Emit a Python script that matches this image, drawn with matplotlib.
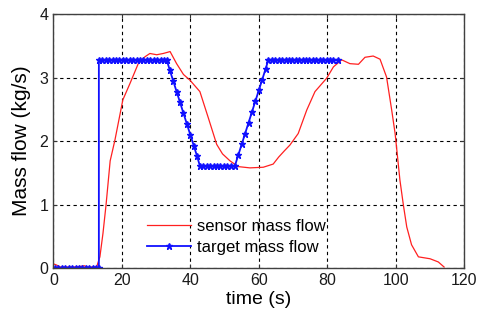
import matplotlib
matplotlib.use("Agg")
import matplotlib.pyplot as plt

# target mass flow (blue, with markers)
target_t = [0.5, 1.5, 2.5, 3.5, 4.5, 5.5, 6.5, 7.5, 8.5, 9.5, 10.5, 11.5, 12.5, 13.3,
            13.3, 14.3, 15.3, 16.3, 17.3, 18.3, 19.3, 20.3, 21.3, 22.3, 23.3, 24.3,
            25.3, 26.3, 27.3, 28.3, 29.3, 30.3, 31.3, 32.3, 33.1,
            34.0, 35.0, 36.0, 37.0, 38.0, 39.0, 40.0, 41.0, 42.0, 42.8,
            43.8, 44.8, 45.8, 46.8, 47.8, 48.8, 49.8, 50.8, 51.8, 53.0,
            54.0, 55.0, 56.0, 57.0, 58.0, 59.0, 60.0, 61.0, 62.0, 62.8,
            63.8, 64.8, 65.8, 66.8, 67.8, 68.8, 69.8, 70.8, 71.8, 72.8, 73.8,
            74.8, 75.8, 76.8, 77.8, 78.8, 79.8, 80.8, 81.8, 83.2]
target_v = [0.0] * 14 + \
           [3.28] * 21 + \
           [3.12, 2.95, 2.78, 2.61, 2.44, 2.27, 2.10, 1.93, 1.76, 1.61] + \
           [1.61] * 10 + \
           [1.78, 1.95, 2.12, 2.29, 2.46, 2.63, 2.80, 2.97, 3.14, 3.28] + \
           [3.28] * 20

# sensor mass flow (red)
sensor_t = [0, 1, 2, 4, 6, 8, 9, 10, 12, 12.7, 13.6, 14.5, 15.4, 16.6, 18.0, 20.3,
            22.4, 24.8, 26.8, 28.2, 30.2, 32.1, 34.1, 36.0, 38.0, 39.9, 42.8,
            45.3, 47.7, 49.4, 51.6, 54.0, 57.4, 61.3, 64.2, 65.8, 67.5, 69.1,
            71.5, 74.0, 76.4, 79.8, 81.8, 84.2, 86.6, 89.1, 91.0, 93.4, 95.4,
            97.3, 98.8, 99.8, 100.4, 101.2, 102.2, 103.2, 104.6, 106.6, 110.0,
            112.4, 114.1]
sensor_v = [0.07, 0.05, 0.02, 0.02, 0.02, 0.03, 0.04, 0.02, 0.02, 0.03, 0.18, 0.55,
            1.0, 1.69, 2.02, 2.65, 2.91, 3.22, 3.33, 3.38, 3.36, 3.38, 3.41, 3.22,
            3.05, 2.96, 2.78, 2.36, 1.95, 1.80, 1.69, 1.60, 1.58, 1.59, 1.64, 1.75,
            1.85, 1.94, 2.12, 2.49, 2.78, 2.99, 3.17, 3.28, 3.22, 3.21, 3.32, 3.34,
            3.29, 3.01, 2.49, 2.12, 1.81, 1.39, 1.0, 0.65, 0.37, 0.18, 0.15, 0.10,
            0.02]

x_ticks = [0, 20, 40, 60, 80, 100, 120]
y_ticks = [0, 1, 2, 3, 4]

plt.rcParams['font.family'] = ['Liberation Sans', 'DejaVu Sans']

fig = plt.figure(figsize=(4.79, 3.20), dpi=100)
ax = fig.add_axes([0.1113, 0.1616, 0.858, 0.7944])

ax.plot(sensor_t, sensor_v, color='#ff2020', lw=0.9, label='sensor mass flow')
ax.plot(target_t, target_v, color='#1010ff', lw=1.3, marker='*', ms=5,
        markeredgewidth=1.0, label='target mass flow')

ax.set_xlim(0, 120)
ax.set_ylim(0, 4)
ax.set_xticks(x_ticks)
ax.set_yticks(y_ticks)
ax.tick_params(direction='in', labelsize=11.5, length=3, colors='#333333',
               labelcolor='#1a1a1a', top=True, right=True)
ax.grid(True, color='black', linestyle=(0, (3, 3)), linewidth=0.8)
for s in ax.spines.values():
    s.set_color('#404040')
    s.set_linewidth(1.0)

ax.set_xlabel('time (s)', fontsize=14, labelpad=2)
ax.set_ylabel('Mass flow (kg/s)', fontsize=15, labelpad=6)

leg = ax.legend(loc='upper left', bbox_to_anchor=(0.229, 0.193), frameon=False,
                fontsize=12, handlelength=2.6, handletextpad=0.35,
                labelspacing=0.35, borderpad=0.0, borderaxespad=0.0)

fig.savefig('out.png', dpi=100)
